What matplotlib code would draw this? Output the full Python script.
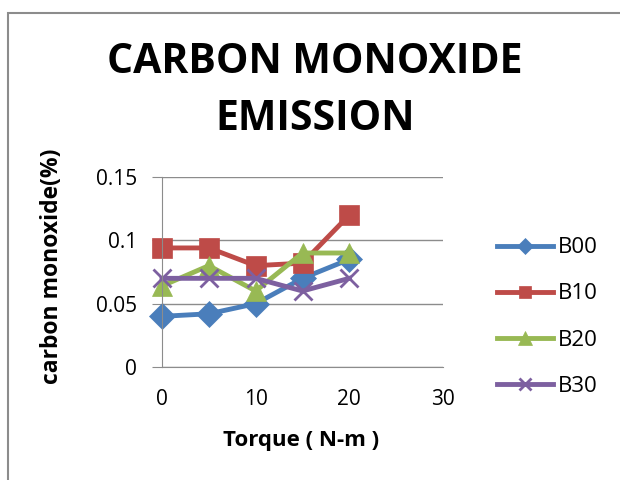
import matplotlib
matplotlib.use('Agg')
import matplotlib.pyplot as plt
import matplotlib.patches as mpatches

FONT = 'Open Sans'

torque = [0, 5, 10, 15, 20]
b00 = [0.040, 0.042, 0.050, 0.070, 0.085]
b10 = [0.094, 0.094, 0.080, 0.082, 0.120]
b20 = [0.064, 0.080, 0.060, 0.090, 0.090]
b30 = [0.070, 0.070, 0.070, 0.060, 0.070]
names = ['B00', 'B10', 'B20', 'B30']

COLORS = ['#4A7EBB', '#BE4B48', '#98B954', '#7D60A0']
MARKERS = ['D', 's', '^', 'x']
MSIZE = [13, 14, 15, 13]
GRAY = '#8c8c8c'

W, H = 620, 480
fig = plt.figure(figsize=(W / 100, H / 100), dpi=100)
fig.patch.set_facecolor('white')

# outer chart border (only top/left edges fall inside the image)
fig.add_artist(mpatches.Rectangle((8 / W, -0.2), 1.2, 1 - 13 / H + 0.2,
                                  transform=fig.transFigure, fill=False,
                                  edgecolor=GRAY, linewidth=1.5))

ax = fig.add_axes([162 / W, 1 - 367 / H, (443 - 162) / W, (367 - 177) / H])
for ys, c, m, ms, lab in zip([b00, b10, b20, b30], COLORS, MARKERS, MSIZE, names):
    ax.plot(torque, ys, color=c, marker=m, markersize=ms, linewidth=3.5,
            markeredgewidth=2 if m == 'x' else 0.5, label=lab, clip_on=False)

ax.set_xlim(0, 30)
ax.set_ylim(0, 0.15)
ax.set_xticks([0, 10, 20, 30])
ax.set_xticklabels(['0', '10', '20', '30'])
ax.set_yticks([0, 0.05, 0.1, 0.15])
ax.set_yticklabels(['0', '0.05', '0.1', '0.15'])
ax.grid(axis='y', color=GRAY, linewidth=1)
ax.set_axisbelow(True)
for s in ['top', 'right']:
    ax.spines[s].set_visible(False)
ax.spines['left'].set_color(GRAY)
ax.spines['bottom'].set_color(GRAY)
ax.tick_params(axis='y', length=7, color=GRAY, labelsize=15, pad=11)
ax.tick_params(axis='x', length=0, labelsize=15, pad=16)
for t in ax.get_xticklabels() + ax.get_yticklabels():
    t.set_fontfamily(FONT)

ax.set_xlabel('Torque ( N-m )', fontsize=16, fontweight='bold', fontfamily=FONT)
ax.xaxis.set_label_coords(0.495, -0.33)
ax.set_ylabel('carbon monoxide(%)', fontsize=16.5, fontweight='bold', fontfamily=FONT)
ax.yaxis.set_label_coords(-0.35, 0.53)

fig.text(315 / W, 1 - 73 / H, 'CARBON MONOXIDE', ha='center', va='baseline',
         fontsize=29.5, fontweight='bold', fontfamily=FONT)
fig.text(315 / W, 1 - 130 / H, 'EMISSION', ha='center', va='baseline',
         fontsize=29.5, fontweight='bold', fontfamily=FONT)

leg = ax.legend(loc='center left', bbox_to_anchor=(497 / W, 1 - 317 / H),
                bbox_transform=fig.transFigure, frameon=False,
                borderpad=0, borderaxespad=0,
                prop={'family': FONT, 'size': 16}, handlelength=2.5,
                labelspacing=1.13, handletextpad=0.25, markerscale=0.65)

fig.savefig('out.png', dpi=100)
